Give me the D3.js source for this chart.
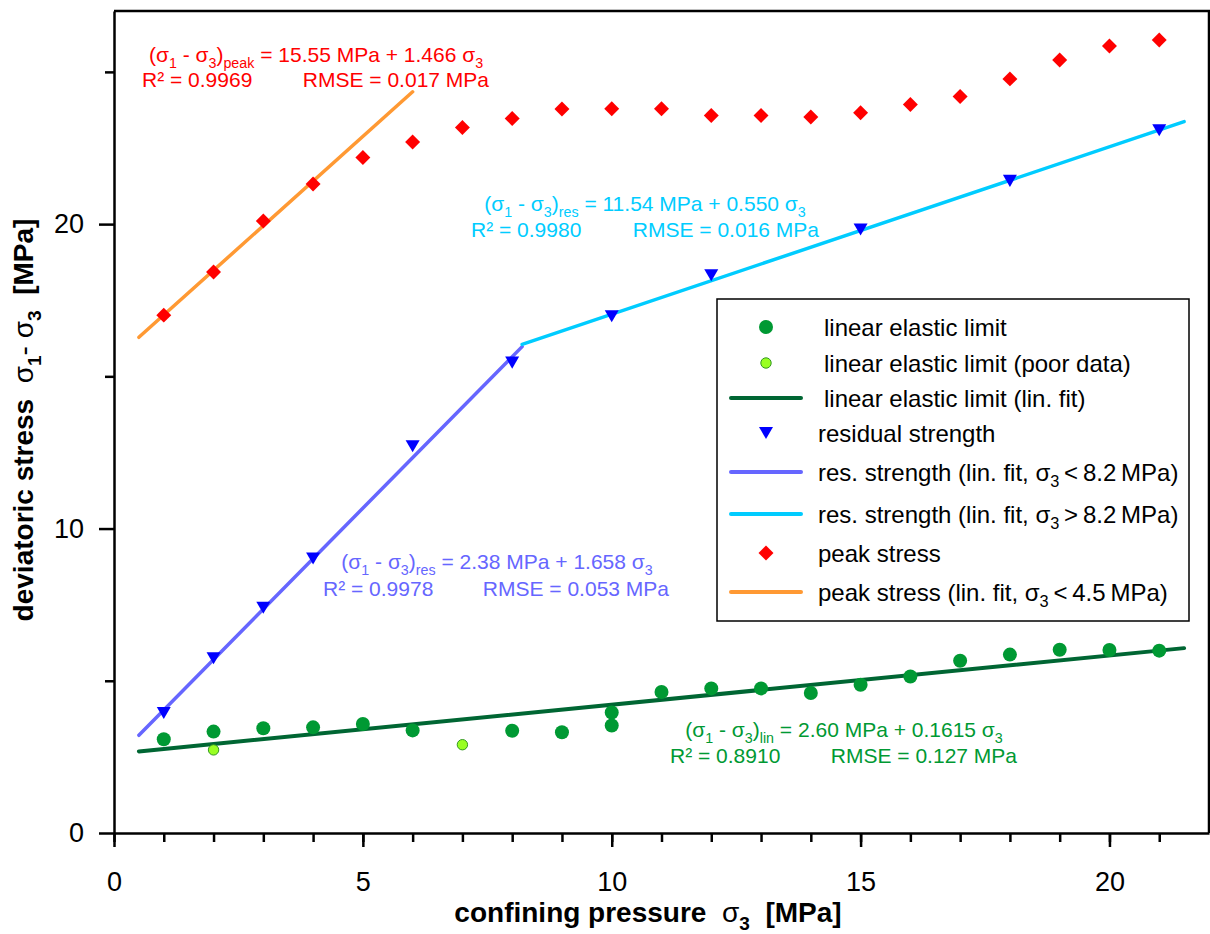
<!DOCTYPE html>
<html lang="en">
<head>
  <meta charset="UTF-8" />
  <title>Deviatoric stress vs confining pressure</title>
  <script src="https://d3js.org/d3.v7.min.js"></script>
  <style>
    body {
      margin: 0;
      background: white;
    }
    svg text {
      font-family: "Liberation Sans", Arial, sans-serif;
      white-space: pre;
    }
  </style>
</head>
<body>
  <svg id="chart" width="1210" height="934"></svg>

  <script>
    // --- data (sigma3 in MPa, stress in MPa) ---
    const elasticX = [1, 2, 3, 4, 5, 6, 8, 9, 10, 10, 11, 12, 13, 14, 15, 16, 17, 18, 19, 20, 21];
    const elasticY = [3.08, 3.33, 3.44, 3.47, 3.58, 3.37, 3.36, 3.31, 3.96, 3.53, 4.63, 4.75, 4.75, 4.60, 4.87, 5.14, 5.66, 5.86, 6.02, 6.01, 5.99];

    const poorX = [2, 7];
    const poorY = [2.73, 2.90];

    const residualX = [1, 2, 3, 4, 6, 8, 10, 12, 15, 18, 21];
    const residualY = [3.94, 5.74, 7.40, 9.02, 12.70, 15.45, 16.97, 18.32, 19.82, 21.42, 23.08];

    const peakX = [1, 2, 3, 4, 5, 6, 7, 8, 9, 10, 11, 12, 13, 14, 15, 16, 17, 18, 19, 20, 21];
    const peakY = [17.01, 18.43, 20.10, 21.32, 22.19, 22.70, 23.17, 23.47, 23.78, 23.79, 23.79, 23.57, 23.57, 23.52, 23.66, 23.93, 24.19, 24.77, 25.39, 25.85, 26.05];

    // fitted lines: intercept, slope, sigma3 range
    const fitNames = ["elastic", "resLow", "resHigh", "peak"];
    const fitIntercept = [2.60, 2.38, 11.54, 15.55];
    const fitSlope = [0.1615, 1.658, 0.550, 1.466];
    const fitFrom = [0.5, 0.5, 8.2, 0.5];
    const fitTo = [21.5, 8.2, 21.5, 6.0];

    const xMajorTicks = [0, 5, 10, 15, 20];
    const yMajorTicks = [0, 10, 20];
    const yMinorTicks = [5, 15, 25];

    const col = {
      elastic: "#009933",
      poorFill: "#99ff22",
      poorStroke: "#339922",
      elasticFit: "#006633",
      residual: "#0000ff",
      resLow: "#6666ff",
      resHigh: "#00ccff",
      peak: "#ff0000",
      peakFit: "#ff9933"
    };
    const fitColor = { elastic: col.elasticFit, resLow: col.resLow, resHigh: col.resHigh, peak: col.peakFit };

    const svg = d3.select("#chart");
    const plotLeft = 114, plotRight = 1209, plotTop = 11, plotBottom = 833;

    const x = d3.scaleLinear().domain([0, 22]).range([plotLeft, plotRight]);
    const y = d3.scaleLinear().domain([0, 27]).range([plotBottom, plotTop]);

    // rich text helper: parts are strings, or {s: "sub"} for subscripts, {b: "bold"} / {n: "normal"} runs
    function rich(g, px, py, parts, size, color, anchor, weight) {
      const t = g.append("text")
        .attr("x", px).attr("y", py)
        .attr("font-size", size)
        .attr("fill", color)
        .attr("text-anchor", anchor || "start")
        .attr("font-weight", weight || "normal");
      let shift = 0;
      parts.forEach(p => {
        const isSub = typeof p === "object" && p.s !== undefined;
        const txt = typeof p === "string" ? p : (p.s !== undefined ? p.s : p.b !== undefined ? p.b : p.n);
        const ts = t.append("tspan").text(txt);
        const target = isSub ? size * 0.28 : 0;
        if (target !== shift) { ts.attr("dy", target - shift); shift = target; }
        if (isSub) ts.attr("font-size", size * 0.68);
        if (typeof p === "object" && p.b !== undefined) ts.attr("font-weight", "bold");
        if (typeof p === "object" && p.n !== undefined) ts.attr("font-weight", "normal");
      });
      return t;
    }

    // --- axes ---
    const xMinor = svg.append("g")
      .attr("transform", `translate(0,${plotBottom})`)
      .call(d3.axisBottom(x).tickValues(d3.range(0, 22)).tickSize(9).tickFormat(""));
    xMinor.select(".domain").remove();

    svg.append("g")
      .attr("transform", `translate(0,${plotBottom})`)
      .call(d3.axisBottom(x).tickValues(xMajorTicks).tickSize(14).tickSizeOuter(0).tickPadding(25));

    const yMinor = svg.append("g")
      .attr("transform", `translate(${plotLeft},0)`)
      .call(d3.axisLeft(y).tickValues(yMinorTicks).tickSize(9).tickFormat(""));
    yMinor.select(".domain").remove();

    svg.append("g")
      .attr("transform", `translate(${plotLeft},0)`)
      .call(d3.axisLeft(y).tickValues(yMajorTicks).tickSize(15).tickSizeOuter(0).tickPadding(15));

    svg.selectAll(".tick line").attr("stroke", "#000").attr("stroke-width", 2.5);
    svg.selectAll(".domain").attr("stroke", "#000").attr("stroke-width", 2.5);
    svg.selectAll(".tick text")
      .attr("font-size", 27)
      .attr("fill", "#000")
      .attr("font-family", "Liberation Sans, Arial, sans-serif");

    // frame top / right
    svg.append("path")
      .attr("d", `M${plotLeft},${plotTop} H${plotRight} V${plotBottom}`)
      .attr("fill", "none")
      .attr("stroke", "#000")
      .attr("stroke-width", 2.5);

    // axis titles
    rich(svg, 648, 922, [{ b: "confining pressure  " }, { n: "σ" }, { s: "3" }, { b: "  [MPa]" }], 28, "#000", "middle", "bold");
    rich(svg.append("g").attr("transform", "translate(33,420) rotate(-90)"), 0, 0,
      [{ b: "deviatoric stress  " }, { n: "σ" }, { s: "1" }, { n: "- σ" }, { s: "3" }, { b: "  [MPa]" }], 28, "#000", "middle", "bold");

    // --- fit lines ---
    const line = d3.line().x(d => x(d[0])).y(d => y(d[1]));
    fitNames.forEach((name, i) => {
      const pts = [fitFrom[i], fitTo[i]].map(s => [s, fitIntercept[i] + fitSlope[i] * s]);
      svg.append("path")
        .attr("d", line(pts))
        .attr("fill", "none")
        .attr("stroke", fitColor[name])
        .attr("stroke-width", name === "elastic" ? 4 : 3.5)
        .attr("stroke-linecap", "round");
    });

    // --- markers ---
    const triDown = { draw(ctx, size) { const w = Math.sqrt(size) * 0.75, h = w * 0.86; ctx.moveTo(-w, -h); ctx.lineTo(w, -h); ctx.lineTo(0, h); ctx.closePath(); } };
    const triPath = d3.symbol().type(triDown).size(87)();
    const diamondPath = d3.symbol().type(d3.symbolSquare).size(112)();

    svg.append("g").selectAll("path")
      .data(peakX.map((v, i) => [v, peakY[i]]))
      .join("path")
      .attr("d", diamondPath)
      .attr("transform", d => `translate(${x(d[0])},${y(d[1])}) rotate(45)`)
      .attr("fill", col.peak);

    svg.append("g").selectAll("path")
      .data(residualX.map((v, i) => [v, residualY[i]]))
      .join("path")
      .attr("d", triPath)
      .attr("transform", d => `translate(${x(d[0])},${y(d[1])})`)
      .attr("fill", col.residual);

    svg.append("g").selectAll("circle")
      .data(elasticX.map((v, i) => [v, elasticY[i]]))
      .join("circle")
      .attr("cx", d => x(d[0]))
      .attr("cy", d => y(d[1]))
      .attr("r", 7)
      .attr("fill", col.elastic);

    svg.append("g").selectAll("circle")
      .data(poorX.map((v, i) => [v, poorY[i]]))
      .join("circle")
      .attr("cx", d => x(d[0]))
      .attr("cy", d => y(d[1]))
      .attr("r", 5.2)
      .attr("fill", col.poorFill)
      .attr("stroke", col.poorStroke)
      .attr("stroke-width", 1);

    // --- fit annotations ---
    const fs = 21;
    rich(svg, 316, 62, ["(σ", { s: "1" }, " - σ", { s: "3" }, ")", { s: "peak" }, " = 15.55 MPa + 1.466 σ", { s: "3" }], fs, col.peak, "middle");
    rich(svg, 142, 87, ["R² = 0.9969"], fs, col.peak, "start");
    rich(svg, 489, 87, ["RMSE = 0.017 MPa"], fs, col.peak, "end");

    rich(svg, 645, 211, ["(σ", { s: "1" }, " - σ", { s: "3" }, ")", { s: "res" }, " = 11.54 MPa + 0.550 σ", { s: "3" }], fs, col.resHigh, "middle");
    rich(svg, 471, 237, ["R² = 0.9980"], fs, col.resHigh, "start");
    rich(svg, 819, 237, ["RMSE = 0.016 MPa"], fs, col.resHigh, "end");

    rich(svg, 497, 569, ["(σ", { s: "1" }, " - σ", { s: "3" }, ")", { s: "res" }, " = 2.38 MPa + 1.658 σ", { s: "3" }], fs, col.resLow, "middle");
    rich(svg, 323, 596, ["R² = 0.9978"], fs, col.resLow, "start");
    rich(svg, 669, 596, ["RMSE = 0.053 MPa"], fs, col.resLow, "end");

    rich(svg, 844, 737, ["(σ", { s: "1" }, " - σ", { s: "3" }, ")", { s: "lin" }, " = 2.60 MPa + 0.1615 σ", { s: "3" }], fs, col.elastic, "middle");
    rich(svg, 670, 763, ["R² = 0.8910"], fs, col.elastic, "start");
    rich(svg, 1017, 763, ["RMSE = 0.127 MPa"], fs, col.elastic, "end");

    // --- legend ---
    const legendLabels = [
      ["linear elastic limit"],
      ["linear elastic limit (poor data)"],
      ["linear elastic limit (lin. fit)"],
      ["residual strength"],
      ["res. strength (lin. fit, σ", { s: "3" }, "\u2009<\u20098.2\u2009MPa)"],
      ["res. strength (lin. fit, σ", { s: "3" }, "\u2009>\u20098.2\u2009MPa)"],
      ["peak stress"],
      ["peak stress (lin. fit, σ", { s: "3" }, "\u2009<\u20094.5\u2009MPa)"]
    ];
    const legendKind = ["dot", "poor", "elastic", "tri", "resLow", "resHigh", "diamond", "peak"];
    const legendRowY = [327, 363, 398, 433, 472, 514, 553, 592];
    const legendTextX = [824, 824, 824, 818, 818, 818, 818, 818];

    const lg = svg.append("g");
    lg.append("rect")
      .attr("x", 717).attr("y", 299)
      .attr("width", 472).attr("height", 322)
      .attr("fill", "white")
      .attr("stroke", "#000")
      .attr("stroke-width", 1.5);

    legendKind.forEach((k, i) => {
      const cy = legendRowY[i], cx = 766;
      if (k === "dot") {
        lg.append("circle").attr("cx", cx).attr("cy", cy).attr("r", 7).attr("fill", col.elastic);
      } else if (k === "poor") {
        lg.append("circle").attr("cx", cx).attr("cy", cy).attr("r", 5.2)
          .attr("fill", col.poorFill).attr("stroke", col.poorStroke).attr("stroke-width", 1);
      } else if (k === "tri") {
        lg.append("path").attr("d", triPath).attr("transform", `translate(${cx},${cy})`).attr("fill", col.residual);
      } else if (k === "diamond") {
        lg.append("path").attr("d", diamondPath).attr("transform", `translate(${cx},${cy}) rotate(45)`).attr("fill", col.peak);
      } else {
        lg.append("line")
          .attr("x1", 731).attr("x2", 801)
          .attr("y1", cy).attr("y2", cy)
          .attr("stroke", fitColor[k])
          .attr("stroke-width", 4)
          .attr("stroke-linecap", "round");
      }
      rich(lg, legendTextX[i], cy + 8.5, legendLabels[i], 24, "#000", "start");
    });
  </script>
</body>
</html>
